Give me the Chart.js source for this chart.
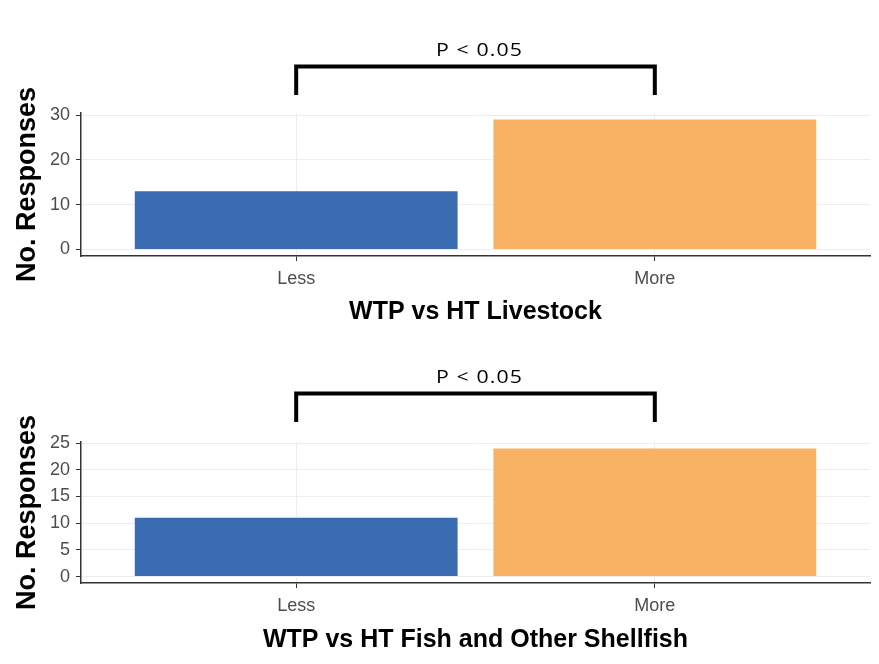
<!DOCTYPE html>
<html>
<head>
<meta charset="utf-8">
<script src="https://cdn.jsdelivr.net/npm/chart.js@4"></script>
<style>
  html, body { margin: 0; padding: 0; background: #ffffff; }
  canvas { display: block; }
</style>
</head>
<body>
<canvas id="livestock" width="879" height="332"></canvas>
<canvas id="fish" width="879" height="332"></canvas>
<script>
// Response counts by willingness-to-pay direction
const categories = ['Less', 'More'];
const livestockCounts = [13, 29];
const fishCounts = [11, 24];
const livestockTicks = [0, 10, 20, 30];
const fishTicks = [0, 5, 10, 15, 20, 25];
const livestockTitle = 'WTP vs HT Livestock';
const fishTitle = 'WTP vs HT Fish and Other Shellfish';
const yAxisTitle = 'No. Responses';
const significanceLabel = 'P < 0.05';
const barColors = ['#3A6AAF', '#F9B163'];

const tickFont = { family: "'Liberation Sans', Arial, sans-serif", size: 18 };
const xTitleFont = { family: "'Liberation Sans', Arial, sans-serif", size: 25, weight: 'bold' };
const yTitleFont = { family: "'Liberation Sans', Arial, sans-serif", size: 27, weight: 'bold' };

// Significance bracket joining the two category centres, drawn above the plot
const bracketPlugin = {
  id: 'sigBracket',
  afterDraw(chart, args, opts) {
    const xs = chart.scales.x;
    const x1 = xs.getPixelForValue(1);
    const x2 = xs.getPixelForValue(2);
    const ctx = chart.ctx;
    ctx.save();
    ctx.strokeStyle = '#000000';
    ctx.lineWidth = 4;
    ctx.lineJoin = 'miter';
    ctx.lineCap = 'butt';
    ctx.beginPath();
    ctx.moveTo(x1, opts.legY);
    ctx.lineTo(x1, opts.barY);
    ctx.lineTo(x2, opts.barY);
    ctx.lineTo(x2, opts.legY);
    ctx.stroke();
    // label set in a slightly widened face
    const sx = 1.12;
    ctx.translate((x1 + x2) / 2 + 4, opts.textY);
    ctx.scale(sx, 1);
    ctx.font = "19px 'Open Sans', sans-serif";
    ctx.letterSpacing = '1px';
    ctx.fillStyle = '#000000';
    ctx.textAlign = 'center';
    ctx.textBaseline = 'alphabetic';
    ctx.fillText(opts.text, 0, 0);
    ctx.restore();
  }
};

function makePanel(id, counts, yTicks, xTitle, lay) {
  const yMax = Math.max(...counts);
  return new Chart(document.getElementById(id), {
    type: 'bar',
    plugins: [bracketPlugin],
    data: {
      datasets: [{
        data: categories.map((c, i) => ({ x: i + 1, y: counts[i] })),
        backgroundColor: barColors,
        borderWidth: 0,
        barPercentage: 0.9,
        categoryPercentage: 1
      }]
    },
    options: {
      responsive: false,
      animation: false,
      layout: { padding: { top: lay.top, left: 0, right: 9, bottom: 0 } },
      plugins: {
        legend: { display: false },
        tooltip: { enabled: false },
        sigBracket: { text: significanceLabel, barY: lay.barY, legY: lay.legY, textY: lay.textY }
      },
      scales: {
        x: {
          type: 'linear',
          min: 0.4,
          max: 2.6,
          offset: false,
          afterBuildTicks: s => { s.ticks = categories.map((c, i) => ({ value: i + 1 })); },
          afterFit: s => { s.height = lay.xHeight; },
          ticks: {
            callback: v => categories[v - 1],
            font: tickFont,
            color: '#4D4D4D',
            padding: 7,
            maxRotation: 0
          },
          grid: { offset: false, color: '#EDEDED', lineWidth: 1, tickColor: '#333333', tickLength: 5 },
          border: { color: '#333333', width: 1.5 },
          title: {
            display: true,
            text: xTitle,
            font: xTitleFont,
            color: '#000000',
            padding: { top: 0, bottom: lay.titlePad }
          }
        },
        y: {
          min: -0.05 * yMax,
          max: 1.05 * yMax,
          afterBuildTicks: s => { s.ticks = yTicks.map(v => ({ value: v })); },
          afterFit: s => { s.width = 81; },
          ticks: { font: tickFont, color: '#4D4D4D', padding: 6 },
          grid: { color: '#EDEDED', lineWidth: 1, tickColor: '#333333', tickLength: 5 },
          border: { color: '#333333', width: 1.5 },
          title: {
            display: true,
            text: yAxisTitle,
            font: yTitleFont,
            color: '#000000',
            padding: { top: 11, bottom: 0 }
          }
        }
      }
    }
  });
}

makePanel('livestock', livestockCounts, livestockTicks, livestockTitle,
  { top: 113, xHeight: 76, titlePad: 5, barY: 66.5, legY: 95, textY: 56 });
makePanel('fish', fishCounts, fishTicks, fishTitle,
  { top: 110, xHeight: 81, titlePad: 9, barY: 61.5, legY: 90, textY: 51 });
</script>
</body>
</html>
